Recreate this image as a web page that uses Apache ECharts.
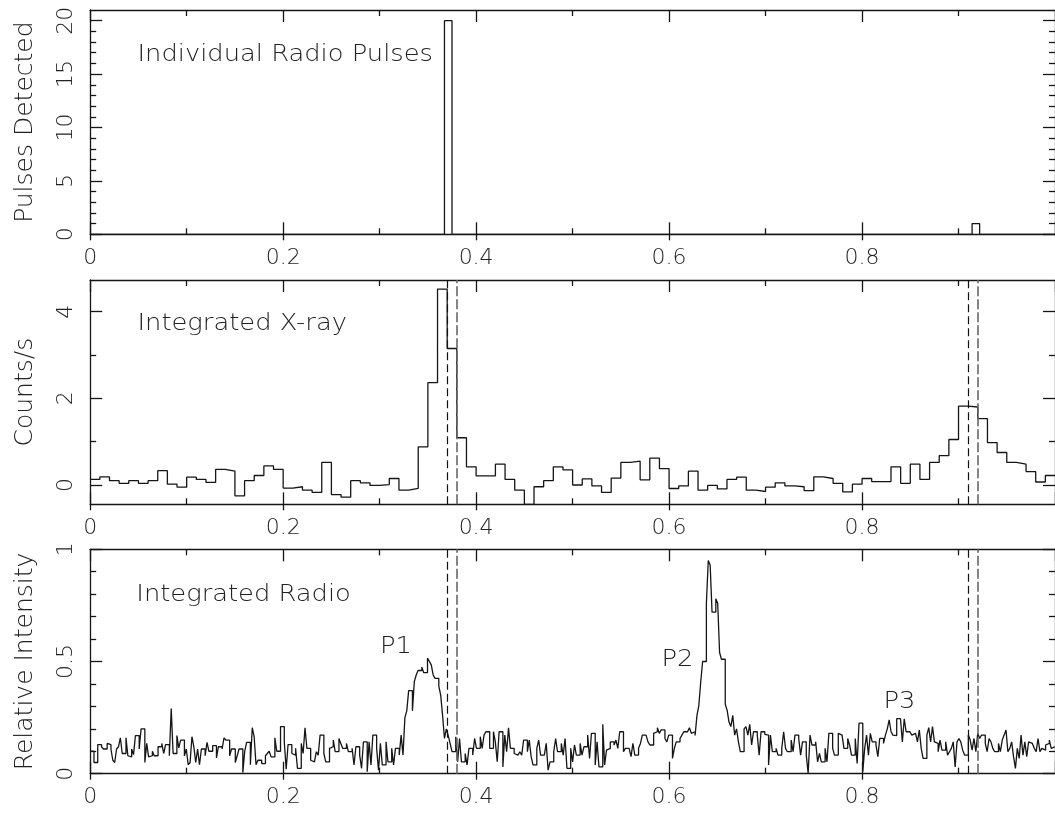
<!DOCTYPE html>
<html>
<head>
<meta charset="utf-8">
<script src="https://cdn.jsdelivr.net/npm/echarts@6/dist/echarts.min.js"></script>
<style>
  html, body { margin: 0; padding: 0; background: #ffffff; }
  #chart { width: 1055px; height: 815px; }
</style>
</head>
<body>
<div id="chart"></div>
<script>
// Individual radio pulses per phase bin (128 bins over one rotation)
const pulseCounts = [
  0,0,0,0,0,0,0,0,0,0,0,0,0,0,0,0,
  0,0,0,0,0,0,0,0,0,0,0,0,0,0,0,0,
  0,0,0,0,0,0,0,0,0,0,0,0,0,0,0,20,
  0,0,0,0,0,0,0,0,0,0,0,0,0,0,0,0,
  0,0,0,0,0,0,0,0,0,0,0,0,0,0,0,0,
  0,0,0,0,0,0,0,0,0,0,0,0,0,0,0,0,
  0,0,0,0,0,0,0,0,0,0,0,0,0,0,0,0,
  0,0,0,0,0,1,0,0,0,0,0,0,0,0,0,0
];

// Integrated X-ray count rate (100 phase bins)
const xrayRate = [
  0.13, 0.19, 0.10, 0.04, 0.10, 0.04, 0.10, 0.33, 0.02, -0.05,
  0.18, 0.13, 0.06, 0.36, 0.32, -0.25, 0.10, 0.22, 0.44, 0.36,
  -0.07, -0.04, -0.12, -0.17, 0.52, -0.22, -0.28, 0.10, 0.05, -0.01,
  0.01, 0.15, -0.12, -0.08, 0.88, 2.36, 4.52, 3.15, 1.09, 0.42,
  0.21, 0.21, 0.48, 0.13, -0.12, -0.45, -0.04, 0.10, 0.42, 0.35,
  0.00, 0.14, -0.02, -0.17, 0.16, 0.52, 0.55, 0.12, 0.62, 0.38,
  -0.08, -0.02, 0.32, -0.12, -0.01, -0.09, 0.13, 0.18, -0.12, -0.15,
  -0.05, 0.05, -0.02, -0.04, -0.13, 0.19, 0.15, 0.04, -0.16, 0.02,
  0.15, 0.08, 0.08, 0.42, 0.04, 0.48, 0.13, 0.52, 0.68, 1.05,
  1.82, 1.80, 1.53, 0.98, 0.75, 0.52, 0.48, 0.31, 0.07, 0.22
];

// Integrated radio profile, relative intensity (512 phase bins)
const radioProfile = [
  0.10,0.10,0.05,0.05,0.13,0.13,0.12,0.11,0.11,0.135,
  0.13,0.11,0.06,0.05,0.11,0.12,0.16,0.09,0.09,0.16,
  0.08,0.075,0.11,0.085,0.17,0.17,0.11,0.20,0.20,0.05,
  0.135,0.075,0.08,0.10,0.08,0.08,0.12,0.12,0.135,0.09,
  0.13,0.13,0.08,0.29,0.09,0.09,0.17,0.115,0.15,0.15,
  0.08,0.11,0.04,0.05,0.165,0.12,0.05,0.11,0.04,0.11,
  0.11,0.08,0.14,0.10,0.10,0.125,0.125,0.07,0.12,0.12,
  0.11,0.16,0.15,0.15,0.08,0.11,0.11,0.05,0.08,0.11,
  0.11,0.005,0.10,0.14,0.14,0.04,0.205,0.165,0.04,0.06,
  0.06,0.045,0.045,0.08,0.09,0.10,0.075,0.075,0.16,0.10,
  0.10,0.21,0.21,0.14,0.02,0.13,0.13,0.09,0.083,0.113,
  0.024,0.024,0.135,0.09,0.205,0.113,0.113,0.06,0.053,0.053,
  0.098,0.083,0.172,0.172,0.09,0.053,0.053,0.113,0.12,0.15,
  0.098,0.098,0.157,0.135,0.113,0.113,0.135,0.098,0.098,0.113,
  0.039,0.12,0.12,0.083,0.024,0.142,0.142,0.009,0.142,0.039,
  0.172,0.172,0.113,0.016,0.135,0.039,0.039,0.142,0.053,0.053,
  0.113,0.039,0.113,0.113,0.083,0.172,0.083,0.25,0.28,0.37,
  0.37,0.28,0.41,0.44,0.46,0.46,0.475,0.45,0.45,0.515,
  0.50,0.485,0.44,0.425,0.425,0.39,0.35,0.26,0.157,0.20,
  0.17,0.135,0.098,0.098,0.165,0.053,0.157,0.053,0.053,0.09,
  0.039,0.113,0.113,0.083,0.157,0.113,0.113,0.165,0.113,0.172,
  0.187,0.187,0.113,0.113,0.187,0.142,0.053,0.187,0.187,0.03,
  0.172,0.098,0.205,0.113,0.113,0.09,0.083,0.083,0.098,0.083,
  0.15,0.15,0.098,0.15,0.076,0.039,0.039,0.113,0.15,0.083,
  0.083,0.083,0.135,0.016,0.053,0.053,0.098,0.157,0.098,0.098,
  0.135,0.083,0.157,0.024,0.024,0.113,0.053,0.128,0.083,0.083,
  0.135,0.083,0.12,0.12,0.172,0.068,0.18,0.18,0.039,0.142,
  0.03,0.03,0.22,0.039,0.105,0.113,0.142,0.142,0.128,0.15,
  0.113,0.187,0.187,0.098,0.113,0.113,0.113,0.076,0.135,0.083,
  0.083,0.113,0.135,0.172,0.172,0.172,0.142,0.128,0.128,0.18,
  0.187,0.205,0.18,0.195,0.195,0.157,0.142,0.172,0.172,0.068,
  0.113,0.142,0.142,0.157,0.172,0.187,0.187,0.195,0.205,0.18,
  0.187,0.17,0.26,0.305,0.41,0.50,0.50,0.76,0.95,0.93,
  0.72,0.72,0.78,0.76,0.54,0.51,0.51,0.31,0.283,0.23,
  0.21,0.26,0.172,0.20,0.142,0.098,0.098,0.20,0.21,0.172,
  0.22,0.128,0.187,0.187,0.172,0.083,0.187,0.187,0.175,0.172,
  0.039,0.172,0.098,0.098,0.113,0.083,0.083,0.113,0.187,0.113,
  0.098,0.098,0.15,0.098,0.172,0.172,0.157,0.083,0.142,0.142,
  0.083,0.002,0.172,0.128,0.128,0.142,0.053,0.09,0.053,0.053,
  0.113,0.053,0.18,0.18,0.113,0.083,0.083,0.18,0.172,0.165,
  0.113,0.113,0.157,0.128,0.083,0.083,0.157,0.046,0.225,0.225,
  0.009,0.113,0.172,0.083,0.18,0.142,0.142,0.128,0.076,0.157,
  0.157,0.135,0.172,0.20,0.24,0.187,0.172,0.17,0.245,0.245,
  0.238,0.142,0.245,0.187,0.187,0.19,0.172,0.18,0.18,0.142,
  0.195,0.113,0.068,0.068,0.172,0.205,0.142,0.21,0.142,0.135,
  0.098,0.15,0.105,0.105,0.142,0.083,0.098,0.113,0.142,0.03,
  0.142,0.157,0.142,0.105,0.083,0.083,0.172,0.15,0.105,0.157,
  0.098,0.18,0.157,0.172,0.172,0.135,0.098,0.157,0.142,0.113,
  0.098,0.098,0.135,0.098,0.15,0.172,0.195,0.098,0.113,0.142,
  0.076,0.024,0.113,0.068,0.172,0.083,0.142,0.076,0.142,0.135,
  0.135,0.113,0.098,0.157,0.098,0.113,0.105,0.128,0.135,0.15,
  0.113,0.12
];

// Phase edges of the bins holding the detected radio pulses
const pulseWindow = [0.3672, 0.375, 0.9141, 0.9219];

// Phase axis ticks
const phaseMajor = [0, 0.2, 0.4, 0.6, 0.8, 1];
const phaseLabels = [0, 0.2, 0.4, 0.6, 0.8];
const phaseMinor = [0.1, 0.3, 0.5, 0.7, 0.9];

// Vertical axis ticks for each panel
const pulseTicks = [0, 5, 10, 15, 20];
const pulseMinor = [1, 2, 3, 4, 6, 7, 8, 9, 11, 12, 13, 14, 16, 17, 18, 19];
const xrayTicks = [0, 2, 4];
const xrayMinor = [1, 3];
const radioTicks = [0, 0.5, 1];
const radioMinor = [0.1, 0.2, 0.3, 0.4, 0.6, 0.7, 0.8, 0.9];

const INK = '#151515';
const TEXT = '#222222';
const FONT = 'DejaVu Sans';
const FONT_WEIGHT = 200;

const panels = [
  { title: 'Individual Radio Pulses', yName: 'Pulses Detected', values: pulseCounts,
    min: 0, max: 21, major: pulseTicks, minor: pulseMinor, top: 10, height: 224.3, window: false },
  { title: 'Integrated X-ray', yName: 'Counts/s', values: xrayRate,
    min: -0.445, max: 4.73, major: xrayTicks, minor: xrayMinor, top: 280, height: 224.3, window: true },
  { title: 'Integrated Radio', yName: 'Relative Intensity', values: radioProfile,
    min: 0, max: 1, major: radioTicks, minor: radioMinor, top: 549.3, height: 224.4, window: true }
];

// Histogram outline: each bin starts at its left phase edge, last bin closed at phase 1
function histogramPoints(values) {
  const w = 1 / values.length;
  const pts = values.map((v, i) => [i * w, v]);
  pts.push([1, values[values.length - 1]]);
  return pts;
}

const lineStyle = { color: INK, width: 1.3 };
const tickText = { color: TEXT, fontFamily: FONT, fontSize: 22, fontWeight: FONT_WEIGHT };
const nameText = { color: TEXT, fontFamily: FONT, fontSize: 25, fontWeight: FONT_WEIGHT };

const grids = [], xAxes = [], yAxes = [], series = [];

panels.forEach((p, g) => {
  grids.push({ left: 90.2, width: 966.7, top: p.top, height: p.height, containLabel: false });

  const xBase = { type: 'value', gridIndex: g, min: 0, max: 1, splitLine: { show: false } };
  const mainX = xAxes.length;
  // bottom edge: line, inward major ticks and labels
  xAxes.push(Object.assign({}, xBase, {
    position: 'bottom',
    axisLine: { show: true, onZero: false, lineStyle },
    axisTick: { show: true, inside: true, length: 12, customValues: phaseMajor, lineStyle },
    axisLabel: Object.assign({ show: true, margin: 13, customValues: phaseLabels }, tickText)
  }));
  // bottom edge: short outward stubs of the major ticks
  xAxes.push(Object.assign({}, xBase, {
    position: 'bottom',
    axisLine: { show: false, onZero: false },
    axisTick: { show: true, inside: false, length: 6, customValues: phaseLabels, lineStyle },
    axisLabel: { show: false }
  }));
  // bottom edge: minor ticks
  xAxes.push(Object.assign({}, xBase, {
    position: 'bottom',
    axisLine: { show: false, onZero: false },
    axisTick: { show: true, inside: true, length: 6, customValues: phaseMinor, lineStyle },
    axisLabel: { show: false }
  }));
  // top edge: line and ticks
  xAxes.push(Object.assign({}, xBase, {
    position: 'top',
    axisLine: { show: true, onZero: false, lineStyle },
    axisTick: { show: true, inside: true, length: 12, customValues: phaseMajor, lineStyle },
    axisLabel: { show: false }
  }));
  xAxes.push(Object.assign({}, xBase, {
    position: 'top',
    axisLine: { show: false, onZero: false },
    axisTick: { show: true, inside: true, length: 6, customValues: phaseMinor, lineStyle },
    axisLabel: { show: false }
  }));

  const yBase = { type: 'value', gridIndex: g, min: p.min, max: p.max, splitLine: { show: false } };
  const mainY = yAxes.length;
  yAxes.push(Object.assign({}, yBase, {
    position: 'left',
    name: p.yName, nameLocation: 'middle', nameRotate: 90, nameGap: 52,
    nameTextStyle: Object.assign({}, nameText),
    axisLine: { show: true, onZero: false, lineStyle },
    axisTick: { show: true, inside: true, length: 12, customValues: p.major, lineStyle },
    axisLabel: Object.assign({ show: true, rotate: 90, margin: 13, customValues: p.major }, tickText)
  }));
  yAxes.push(Object.assign({}, yBase, {
    position: 'left',
    axisLine: { show: false, onZero: false },
    axisTick: { show: true, inside: true, length: 6, customValues: p.minor, lineStyle },
    axisLabel: { show: false }
  }));
  yAxes.push(Object.assign({}, yBase, {
    position: 'right',
    axisLine: { show: true, onZero: false, lineStyle },
    axisTick: { show: true, inside: true, length: 12, customValues: p.major, lineStyle },
    axisLabel: { show: false }
  }));
  yAxes.push(Object.assign({}, yBase, {
    position: 'right',
    axisLine: { show: false, onZero: false },
    axisTick: { show: true, inside: true, length: 6, customValues: p.minor, lineStyle },
    axisLabel: { show: false }
  }));

  const s = {
    type: 'line', name: p.title, xAxisIndex: mainX, yAxisIndex: mainY,
    data: histogramPoints(p.values), step: 'end',
    symbol: 'none', showSymbol: false, clip: true,
    lineStyle: { color: INK, width: 1.3 }, animation: false, silent: true
  };
  if (p.window) {
    s.markLine = {
      silent: true, animation: false, symbol: ['none', 'none'],
      label: { show: false },
      data: pulseWindow.map((x, i) => ({
        xAxis: x,
        lineStyle: i % 2 === 0
          ? { color: '#111111', width: 1.2, type: [8, 4] }
          : { color: '#666666', width: 1.6, type: [10, 3] }
      }))
    };
  }
  series.push(s);
});

// Panel captions and component labels (wide lettering)
const notes = [
  { text: 'Individual Radio Pulses', x: 137.5, y: 55 },
  { text: 'Integrated X-ray', x: 137.5, y: 324 },
  { text: 'Integrated Radio', x: 136.3, y: 595 },
  { text: 'P1', x: 380, y: 647 },
  { text: 'P2', x: 661.5, y: 660.5 },
  { text: 'P3', x: 883.5, y: 702 }
];

const chart = echarts.init(document.getElementById('chart'), null, { renderer: 'canvas' });
chart.setOption({
  backgroundColor: '#ffffff',
  animation: false,
  grid: grids,
  xAxis: xAxes,
  yAxis: yAxes,
  series: series,
  graphic: notes.map(n => ({
    type: 'text', x: n.x, y: n.y, scaleX: 1.12, silent: true,
    style: {
      text: n.text, fill: TEXT,
      fontFamily: FONT, fontSize: 23, fontWeight: FONT_WEIGHT,
      align: 'left', verticalAlign: 'middle',
      textAlign: 'left', textVerticalAlign: 'middle'
    }
  }))
});
</script>
</body>
</html>
